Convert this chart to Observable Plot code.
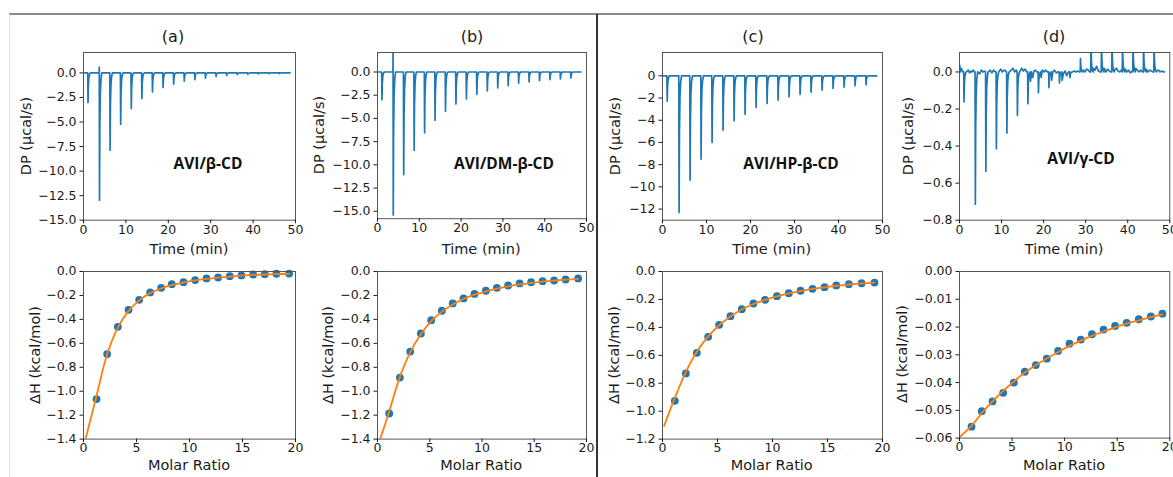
<!DOCTYPE html>
<html><head><meta charset="utf-8">
<script src="https://cdn.jsdelivr.net/npm/d3@7"></script>
<script src="https://cdn.jsdelivr.net/npm/@observablehq/plot@0.6"></script>
<style>
body{margin:0;background:#fff;}
#fig{position:relative;width:1173px;height:477px;overflow:hidden;background:#fff;font-family:"DejaVu Sans",sans-serif;color:#1a1a1a;}
.lbl{position:absolute;transform:translate(-50%,-50%);white-space:nowrap;font-size:14.5px;line-height:1.2;}
.rot{transform:translate(-50%,-50%) rotate(-90deg);}
.ttl{font-size:16px;}
.tag{font-family:"Open Sans",sans-serif;font-weight:700;font-size:15.5px;color:#111;}
.rule{position:absolute;}
</style></head><body><div id="fig"></div>
<script>
// ---------- data ----------
const injTimes = [1.0, 3.7, 6.2, 8.7, 11.2, 13.7, 16.2, 18.7, 21.2, 23.7, 26.2, 28.7, 31.2, 33.7, 36.2, 38.7, 41.2, 43.7, 46.2];
const traceEnd = 48.7;
// peak profile (time offset after injection, fraction of peak depth)
const peakDt = [0, 0.07, 0.15, 0.27, 0.42, 0.62];
const peakFrac = [0, 1, 0.42, 0.16, 0.05, 0];

const dpDepthA = [-3.0, -12.96, -7.87, -5.22, -3.63, -2.61, -1.93, -1.49, -1.15, -0.85, -0.68, -0.54, -0.37, -0.27, -0.17, -0.14, -0.10, -0.08, -0.06];
const dpSpikeA = [0, 0.6, 0, 0, 0, 0, 0, 0, 0, 0, 0, 0, 0, 0, 0, 0, 0, 0, 0];
const dpDepthB = [-2.98, -15.4, -11.05, -8.43, -6.53, -5.2, -4.23, -3.44, -2.9, -2.4, -2.04, -1.72, -1.47, -1.22, -1.08, -0.93, -0.83, -0.75, -0.65];
const dpSpikeB = [0, 2.5, 0, 0, 0, 0, 0, 0, 0, 0, 0, 0, 0, 0, 0, 0, 0, 0, 0];
const dpDepthC = [-2.28, -12.3, -9.39, -7.5, -6.0, -4.89, -4.05, -3.45, -2.85, -2.49, -2.19, -1.89, -1.68, -1.47, -1.29, -1.14, -1.02, -0.9, -0.81];
const dpSpikeC = [0, 0, 0, 0, 0, 0, 0, 0, 0, 0, 0, 0, 0, 0, 0, 0, 0, 0, 0];
const dpDepthD = [-0.162, -0.714, -0.536, -0.414, -0.329, -0.234, -0.171, -0.112, -0.085, -0.059, -0.031, 0.072, 0.16, 0.16, 0.16, 0.16, 0.16, 0.16, 0.16];
const dpSpikeD = [0, 0, 0, 0, 0, 0, 0, 0, 0, 0, 0, 0, 0, 0, 0, 0, 0, 0, 0];
const noiseTimeD = [0.0, 0.2, 0.4, 0.6, 0.8, 2.1, 2.4, 2.7, 3.0, 3.3, 3.55, 4.8, 5.2, 5.6, 6.0, 7.3, 7.7, 8.1, 8.5, 9.8, 10.2, 10.6, 11.0, 12.3, 12.7, 13.1, 13.5, 14.8, 15.2, 15.6, 16.0, 16.9, 17.1, 17.4, 17.7, 18.0, 18.4, 19.4, 19.7, 20.1, 20.5, 20.9, 21.9, 22.2, 22.6, 23.0, 23.4, 24.4, 24.7, 25.1, 25.5, 25.9, 26.9, 27.3, 27.7, 28.1, 28.5, 29.4, 29.8, 30.2, 30.6, 31.0, 31.9, 32.2, 32.6, 33.0, 33.5, 34.4, 34.8, 35.2, 35.6, 36.0, 36.9, 37.3, 37.7, 38.1, 38.5, 39.4, 39.8, 40.2, 40.6, 41.0, 41.9, 42.3, 42.7, 43.1, 43.5, 44.4, 44.8, 45.2, 45.6, 46.0, 46.9, 47.3, 47.7, 48.1, 48.5];
const noiseValD = [0.04, 0.0, 0.02, 0.01, 0.0, 0.01, -0.005, 0.005, 0.0, 0.01, 0.0, -0.01, 0.01, 0.0, 0.005, 0.01, -0.005, 0.01, 0.0, 0.015, 0.0, 0.01, 0.005, 0.01, 0.02, 0.0, 0.01, 0.02, 0.005, 0.015, 0.0, -0.05, 0.0, -0.03, 0.005, 0.01, 0.0, -0.03, 0.01, 0.0, 0.01, 0.0, -0.045, 0.0, 0.01, -0.005, 0.0, -0.045, -0.01, 0.005, -0.02, 0.0, 0.0, 0.005, 0.0, 0.005, 0.0, 0.01, 0.0, 0.015, 0.01, 0.0, 0.02, 0.01, 0.03, 0.005, 0.0, 0.02, 0.0, 0.015, 0.005, 0.0, 0.01, 0.02, 0.005, 0.0, 0.01, 0.015, 0.0, 0.01, -0.005, 0.005, 0.02, 0.01, 0.0, 0.01, 0.0, 0.015, 0.0, 0.01, 0.005, 0.0, 0.005, 0.01, 0.0, 0.005, 0.0];

// integrated heats (molar ratio, ΔH)
const mrA = [1.23, 2.23, 3.24, 4.25, 5.25, 6.29, 7.33, 8.33, 9.43, 10.53, 11.6, 12.7, 13.8, 14.9, 16.0, 17.1, 18.2, 19.4];
const dhA = [-1.066, -0.69, -0.462, -0.32, -0.237, -0.175, -0.136, -0.106, -0.089, -0.072, -0.058, -0.05, -0.039, -0.033, -0.025, -0.022, -0.019, -0.017];
const fitXA = [0.19, 1.2, 2.2, 3.2, 4.2, 5.2, 6.2, 7.3, 8.3, 9.4, 10.5, 11.6, 12.7, 13.8, 14.9, 16.0, 17.1, 18.2, 19.4];
const fitYA = [-1.4, -1.05, -0.70, -0.475, -0.335, -0.245, -0.185, -0.142, -0.113, -0.092, -0.075, -0.062, -0.051, -0.042, -0.035, -0.029, -0.025, -0.022, -0.019];

const mrB = [1.12, 2.14, 3.13, 4.15, 5.14, 6.16, 7.2, 8.23, 9.28, 10.37, 11.42, 12.5, 13.6, 14.7, 15.8, 16.9, 18.0, 19.2];
const dhB = [-1.186, -0.886, -0.669, -0.518, -0.407, -0.328, -0.267, -0.225, -0.187, -0.161, -0.136, -0.117, -0.100, -0.089, -0.081, -0.075, -0.067, -0.058];
const fitXB = [0.26, 1.12, 2.14, 3.13, 4.15, 5.14, 6.16, 7.2, 8.23, 9.28, 10.37, 11.42, 12.5, 13.6, 14.7, 15.8, 16.9, 18.0, 19.2];
const fitYB = [-1.4, -1.17, -0.88, -0.675, -0.525, -0.415, -0.335, -0.275, -0.23, -0.194, -0.166, -0.143, -0.124, -0.108, -0.096, -0.085, -0.076, -0.068, -0.061];

const mrC = [1.12, 2.12, 3.12, 4.15, 5.15, 6.18, 7.21, 8.27, 9.33, 10.4, 11.48, 12.55, 13.64, 14.73, 15.8, 16.94, 18.1, 19.27];
const dhC = [-0.926, -0.730, -0.582, -0.468, -0.382, -0.320, -0.270, -0.229, -0.203, -0.177, -0.155, -0.138, -0.124, -0.112, -0.100, -0.091, -0.084, -0.079];
const fitXC = [0.15, 1.12, 2.12, 3.12, 4.15, 5.15, 6.18, 7.21, 8.27, 9.33, 10.4, 11.48, 12.55, 13.64, 14.73, 15.8, 16.94, 18.1, 19.27];
const fitYC = [-1.105, -0.905, -0.72, -0.575, -0.465, -0.385, -0.322, -0.272, -0.233, -0.203, -0.178, -0.157, -0.140, -0.125, -0.113, -0.102, -0.093, -0.085, -0.079];

const mrD = [1.14, 2.12, 3.14, 4.15, 5.17, 6.21, 7.26, 8.3, 9.38, 10.46, 11.54, 12.6, 13.7, 14.8, 15.9, 17.05, 18.2, 19.3];
const dhD = [-0.0559, -0.0503, -0.0468, -0.0437, -0.0400, -0.0361, -0.0337, -0.0314, -0.0286, -0.0260, -0.0245, -0.0226, -0.0209, -0.0196, -0.0185, -0.0172, -0.0162, -0.0152];
const fitXD = [0, 1.14, 2.12, 3.14, 4.15, 5.17, 6.21, 7.26, 8.3, 9.38, 10.46, 11.54, 12.6, 13.7, 14.8, 15.9, 17.05, 18.2, 19.3];
const fitYD = [-0.0597, -0.0556, -0.0510, -0.0468, -0.0430, -0.0396, -0.0364, -0.0337, -0.0313, -0.0290, -0.0268, -0.0249, -0.0232, -0.0216, -0.0201, -0.0188, -0.0176, -0.0164, -0.0154];

// tick labels
const timeTicks = [0, 10, 20, 30, 40, 50];
const molarTicks = [0, 5, 10, 15, 20];
const dpTicksAB = [0, -2.5, -5, -7.5, -10, -12.5, -15];
const dpTicksC = [0, -2, -4, -6, -8, -10, -12];
const dpTicksD = [0, -0.2, -0.4, -0.6, -0.8];
const dhTicksAB = [0, -0.2, -0.4, -0.6, -0.8, -1.0, -1.2, -1.4];
const dhTicksC = [0, -0.2, -0.4, -0.6, -0.8, -1.0, -1.2];
const dhTicksD = [0, -0.01, -0.02, -0.03, -0.04, -0.05, -0.06];

const panelTitles = ["(a)", "(b)", "(c)", "(d)"];
const systemNames = ["AVI/β-CD", "AVI/DM-β-CD", "AVI/HP-β-CD", "AVI/γ-CD"];
const dpLabel = "DP (µcal/s)";
const dhLabel = "ΔH (kcal/mol)";
const timeLabel = "Time (min)";
const molarLabel = "Molar Ratio";

// ---------- rendering ----------
const BLUE = "#1f77b4", ORANGE = "#ff7f0e";
const fig = document.getElementById("fig");

function buildTrace(depths, spikes, noiseT, noiseV) {
  const pts = [];
  if (!noiseT) pts.push({t: 0, v: 0});
  injTimes.forEach((t0, i) => {
    peakDt.forEach((dt, k) => {
      pts.push({t: t0 + dt, v: depths[i] * peakFrac[k]});
      if (k === 0 && spikes[i]) pts.push({t: t0 + 0.02, v: spikes[i]});
    });
  });
  if (noiseT) noiseT.forEach((t, j) => {
    if (!injTimes.some(t0 => t > t0 - 0.05 && t < t0 + 0.65)) pts.push({t, v: noiseV[j]});
  });
  pts.push({t: traceEnd, v: 0});
  pts.sort((a, b) => a.t - b.t);
  return pts;
}

const mL = 80, mR = 20, mT = 10, mB = 40;
function place(plot, left, top) {
  plot.style.position = "absolute";
  plot.style.left = (left - mL) + "px";
  plot.style.top = (top - mT) + "px";
  fig.appendChild(plot);
}
const baseStyle = {fontFamily: "'DejaVu Sans', sans-serif", fontSize: "12.5px", color: "#1a1a1a", background: "transparent", overflow: "visible"};

function dpPanel(c) {
  const data = buildTrace(c.depths, c.spikes, c.noiseT, c.noiseV);
  const plot = Plot.plot({
    width: c.right - c.left + mL + mR, height: c.bottom - c.top + mT + mB,
    marginLeft: mL, marginRight: mR, marginTop: mT, marginBottom: mB,
    style: baseStyle,
    x: {domain: [0, 50]}, y: {domain: c.yDomain},
    marks: [
      Plot.line(data, {x: "t", y: "v", stroke: BLUE, strokeWidth: 1.7, clip: true}),
      Plot.frame({stroke: "#555", strokeWidth: 1}),
      Plot.axisX({ticks: timeTicks, tickSize: 3.5, tickPadding: 1, label: null, tickFormat: d3.format("d")}),
      Plot.axisY({ticks: c.yTicks, tickSize: 3.5, tickPadding: 3.5, label: null, tickFormat: d3.format(c.yFmt)})
    ]
  });
  place(plot, c.left, c.top);
}

function dhPanel(c) {
  const pts = c.mr.map((x, i) => ({x, y: c.dh[i]}));
  const fit = c.fitX.map((x, i) => ({x, y: c.fitY[i]}));
  const plot = Plot.plot({
    width: c.right - c.left + mL + mR, height: c.bottom - c.top + mT + mB,
    marginLeft: mL, marginRight: mR, marginTop: mT, marginBottom: mB,
    style: baseStyle,
    x: {domain: [0, 20]}, y: {domain: c.yDomain},
    marks: [
      Plot.dot(pts, {x: "x", y: "y", r: 3.9, fill: BLUE, stroke: "none"}),
      Plot.line(fit, {x: "x", y: "y", stroke: ORANGE, strokeWidth: 1.8, curve: "catmull-rom", clip: true}),
      Plot.frame({stroke: "#555", strokeWidth: 1}),
      Plot.axisX({ticks: molarTicks, tickSize: 3.5, tickPadding: 1, label: null, tickFormat: d3.format("d")}),
      Plot.axisY({ticks: c.yTicks, tickSize: 3.5, tickPadding: 3.5, label: null, tickFormat: d3.format(c.yFmt)})
    ]
  });
  place(plot, c.left, c.top);
}

const cols = [
  {left: 83, right: 295, topB: 220, botB: 438.3, title: 173, tagX: 208, tagY: 162.5, dpX: 27, dhX: 35.5},
  {left: 376.7, right: 585.7, topB: 218.5, botB: 438.3, title: 472, tagX: 504, tagY: 162.5, dpX: 320, dhX: 328.5},
  {left: 661.7, right: 881.7, topB: 220, botB: 438.3, title: 753, tagX: 791, tagY: 162.5, dpX: 615.7, dhX: 614.5},
  {left: 959, right: 1169.3, topB: 220, botB: 437.3, title: 1054, tagX: 1081, tagY: 158, dpX: 908.5, dhX: 903}
];
const dpCfg = [
  {depths: dpDepthA, spikes: dpSpikeA, yDomain: [-15, 2.08], yTicks: dpTicksAB, yFmt: ".1f"},
  {depths: dpDepthB, spikes: dpSpikeB, yDomain: [-15.8, 2.1], yTicks: dpTicksAB, yFmt: ".1f"},
  {depths: dpDepthC, spikes: dpSpikeC, yDomain: [-13, 2.1], yTicks: dpTicksC, yFmt: "d"},
  {depths: dpDepthD, spikes: dpSpikeD, noiseT: noiseTimeD, noiseV: noiseValD, yDomain: [-0.8, 0.105], yTicks: dpTicksD, yFmt: ".1f"}
];
const dhCfg = [
  {mr: mrA, dh: dhA, fitX: fitXA, fitY: fitYA, yDomain: [-1.4, 0], yTicks: dhTicksAB, yFmt: ".1f"},
  {mr: mrB, dh: dhB, fitX: fitXB, fitY: fitYB, yDomain: [-1.4, 0], yTicks: dhTicksAB, yFmt: ".1f"},
  {mr: mrC, dh: dhC, fitX: fitXC, fitY: fitYC, yDomain: [-1.2, 0], yTicks: dhTicksC, yFmt: ".1f"},
  {mr: mrD, dh: dhD, fitX: fitXD, fitY: fitYD, yDomain: [-0.06, 0], yTicks: dhTicksD, yFmt: ".2f"}
];

function label(text, x, y, cls) {
  const d = document.createElement("div");
  d.className = "lbl " + (cls || "");
  d.textContent = text;
  d.style.left = x + "px";
  d.style.top = y + "px";
  fig.appendChild(d);
}
function rule(x, y, w, h, color) {
  const d = document.createElement("div");
  d.className = "rule";
  Object.assign(d.style, {left: x + "px", top: y + "px", width: w + "px", height: h + "px", background: color});
  fig.appendChild(d);
}

// frame decorations
rule(9, 13, 1164, 1.6, "#8a8a8a");
rule(9, 14, 1, 463, "#e2e2e2");
rule(596, 14, 2, 463, "#333");

cols.forEach((c, i) => {
  dpPanel({...dpCfg[i], left: c.left, right: c.right, top: 52.3, bottom: c.topB});
  dhPanel({...dhCfg[i], left: c.left, right: c.right, top: 270.7, bottom: c.botB});
  const cx = (c.left + c.right) / 2;
  label(panelTitles[i], c.title, 36.5, "ttl");
  label(systemNames[i], c.tagX, c.tagY, "tag");
  label(dpLabel, c.dpX, (52.3 + c.topB) / 2, "rot");
  label(dhLabel, c.dhX, (270.7 + c.botB) / 2, "rot");
  label(timeLabel, cx, 249.5);
  label(molarLabel, cx, 466);
});
</script></body></html>
